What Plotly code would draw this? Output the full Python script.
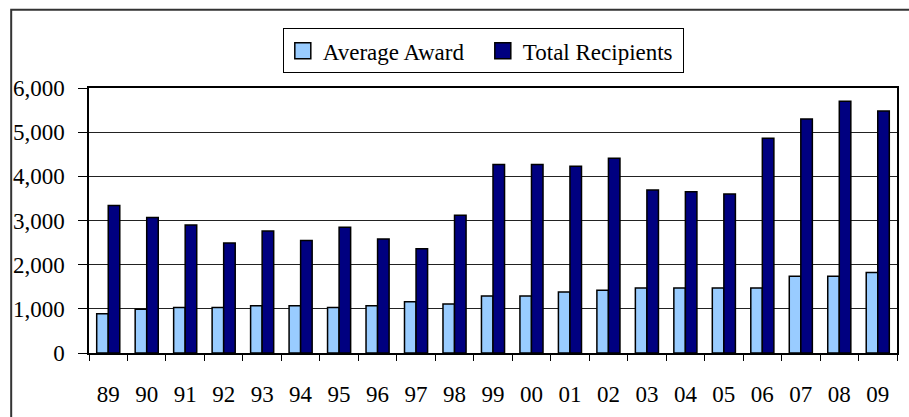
import plotly.graph_objects as go

# Fiscal years (two-digit labels)
years = ["89", "90", "91", "92", "93", "94", "95", "96", "97", "98", "99",
         "00", "01", "02", "03", "04", "05", "06", "07", "08", "09"]

# Average award per recipient
average_award = [890, 990, 1030, 1030, 1070, 1070, 1030, 1070, 1160, 1110, 1290,
                 1290, 1380, 1420, 1470, 1470, 1470, 1470, 1740, 1740, 1820]

# Total number of recipients
total_recipients = [3340, 3070, 2900, 2490, 2760, 2550, 2850, 2580, 2360, 3120, 4270,
                    4270, 4230, 4410, 3690, 3650, 3600, 4860, 5300, 5700, 5480]

series_names = ["Average Award", "Total Recipients"]
series_colors = ["#99CCFF", "#000080"]

serif = "'Liberation Serif', 'Times New Roman', serif"

fig = go.Figure()
for name, values, color in zip(series_names, [average_award, total_recipients], series_colors):
    fig.add_trace(go.Bar(
        x=years, y=values, name=name, showlegend=False, legendgroup=name,
        marker=dict(color=color, line=dict(color="black", width=1.5)),
    ))

# Legend keys drawn as larger square swatches
for name, color in zip(series_names, series_colors):
    fig.add_trace(go.Scatter(
        x=[None], y=[None], mode="markers", name=name, legendgroup=name,
        marker=dict(symbol="square", size=16, color=color,
                    line=dict(color="black", width=1.5)),
    ))

fig.update_layout(
    width=909, height=417,
    margin=dict(l=89, r=10, t=88, b=60),
    paper_bgcolor="white", plot_bgcolor="white",
    barmode="group", bargap=0.4, bargroupgap=0,
    font=dict(family=serif, size=23, color="black"),
    showlegend=True,
    legend=dict(
        orientation="h",
        x=0.488, xanchor="center",
        y=1.225, yanchor="top",
        bordercolor="black", borderwidth=1, bgcolor="white",
        font=dict(family=serif, size=23, color="black"),
        itemsizing="trace", itemwidth=30,
        entrywidth=155, entrywidthmode="pixels",
    ),
    xaxis=dict(
        type="category",
        showline=True, linecolor="black", linewidth=1.5, mirror=True,
        ticks="outside", ticklen=6, tickcolor="black", tickwidth=1,
        tickson="boundaries",
        showgrid=False,
        tickfont=dict(family=serif, size=23, color="black"),
        ticklabelstandoff=20,
    ),
    yaxis=dict(
        range=[0, 6000], dtick=1000, tickformat=",",
        showline=True, linecolor="black", linewidth=1.5, mirror=True,
        ticks="outside", ticklen=9, tickcolor="black", tickwidth=1,
        showgrid=True, gridcolor="#222222", gridwidth=1,
        zeroline=False,
        tickfont=dict(family=serif, size=23, color="black"),
        ticklabelstandoff=9,
    ),
)

# Outer frame around the chart
fig.add_shape(
    type="rect", xref="paper", yref="paper",
    x0=-0.0963, x1=1.2, y0=-0.4, y1=1.2955,
    line=dict(color="#333333", width=2), fillcolor="rgba(0,0,0,0)",
    layer="below",
)

fig.write_html("out.html")
